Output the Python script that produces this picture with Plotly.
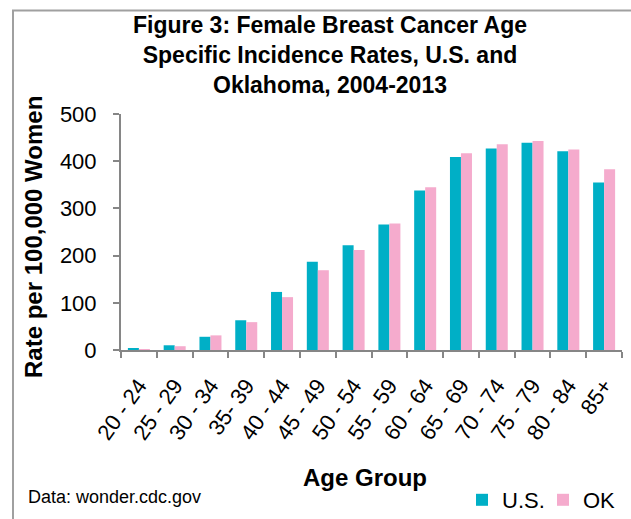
import plotly.graph_objects as go

age_groups = ["20 - 24", "25 - 29", "30 - 34", "35- 39", "40 - 44", "45 - 49", "50 - 54",
              "55 - 59", "60 - 64", "65 - 69", "70 - 74", "75 - 79", "80 - 84", "85+"]
us_rates = [3, 10, 28, 63, 123, 187, 222, 266, 338, 409, 427, 439, 421, 355]
ok_rates = [2, 8, 31, 59, 112, 169, 212, 268, 345, 417, 436, 443, 425, 383]

W, H = 631, 519
L, R, T, B = 121, 9, 114, 169
PW = W - L - R
PH = H - T - B

def px(x):
    return (x - L) / PW

def py(y):
    return (H - B - y) / PH

FONT = "Liberation Sans, Arial, sans-serif"

fig = go.Figure()
fig.add_trace(go.Bar(x=age_groups, y=us_rates, name="U.S.",
                     marker=dict(color="#00AFC6", line=dict(width=0))))
fig.add_trace(go.Bar(x=age_groups, y=ok_rates, name="OK",
                     marker=dict(color="#F5ABCD", line=dict(width=0))))

fig.update_layout(
    width=W, height=H,
    margin=dict(l=L, r=R, t=T, b=B, autoexpand=False),
    paper_bgcolor="white", plot_bgcolor="white",
    barmode="group", bargap=0.385, bargroupgap=0,
    font=dict(family=FONT, color="#000000"),
    title=dict(
        text="<b>Figure 3: Female Breast Cancer Age<br>Specific Incidence Rates, U.S. and<br>Oklahoma, 2004-2013</b>",
        font=dict(family=FONT, size=23, color="#000000"),
        xref="paper", x=px(330), xanchor="center",
        yref="container", y=1 - 33 / H, yanchor="middle",
    ),
    xaxis=dict(
        showline=True, linecolor="#868686", linewidth=2,
        ticks="outside", tickson="boundaries", ticklen=6, tickcolor="#868686", tickwidth=2,
        tickangle=-55, tickfont=dict(family=FONT, size=22, color="#000000"),
        showgrid=False, ticklabelstandoff=12, automargin=False,
    ),
    yaxis=dict(
        range=[0, 500], dtick=100,
        showline=True, linecolor="#868686", linewidth=2,
        ticks="outside", ticklen=6, tickcolor="#868686", tickwidth=2,
        tickfont=dict(family=FONT, size=22, color="#000000"),
        showgrid=False, zeroline=False, ticklabelstandoff=12, automargin=False,
    ),
    legend=dict(
        orientation="h", x=px(462), xanchor="left", y=py(500), yanchor="middle",
        font=dict(family=FONT, size=22, color="#000000"),
        itemwidth=30, traceorder="normal", bgcolor="rgba(0,0,0,0)",
        entrywidth=36, entrywidthmode="pixels",
    ),
    annotations=[
        dict(text="<b>Rate per 100,000 Women</b>", xref="paper", yref="paper",
             x=px(33), y=py(237), textangle=-90, showarrow=False,
             xanchor="center", yanchor="middle",
             font=dict(family=FONT, size=24, color="#000000")),
        dict(text="<b>Age Group</b>", xref="paper", yref="paper",
             x=px(365), y=py(477), showarrow=False,
             xanchor="center", yanchor="middle",
             font=dict(family=FONT, size=24, color="#000000")),
        dict(text="Data: wonder.cdc.gov", xref="paper", yref="paper",
             x=px(26), y=py(497), showarrow=False,
             xanchor="left", yanchor="middle",
             font=dict(family=FONT, size=18, color="#000000")),
    ],
    shapes=[
        dict(type="path", xref="paper", yref="paper",
             path=f"M {px(13)},{py(560)} L {px(13)},{py(10.5)} L {px(700)},{py(10.5)}",
             line=dict(color="#A0A0A0", width=2)),
    ],
)

fig.write_html("out.html")
